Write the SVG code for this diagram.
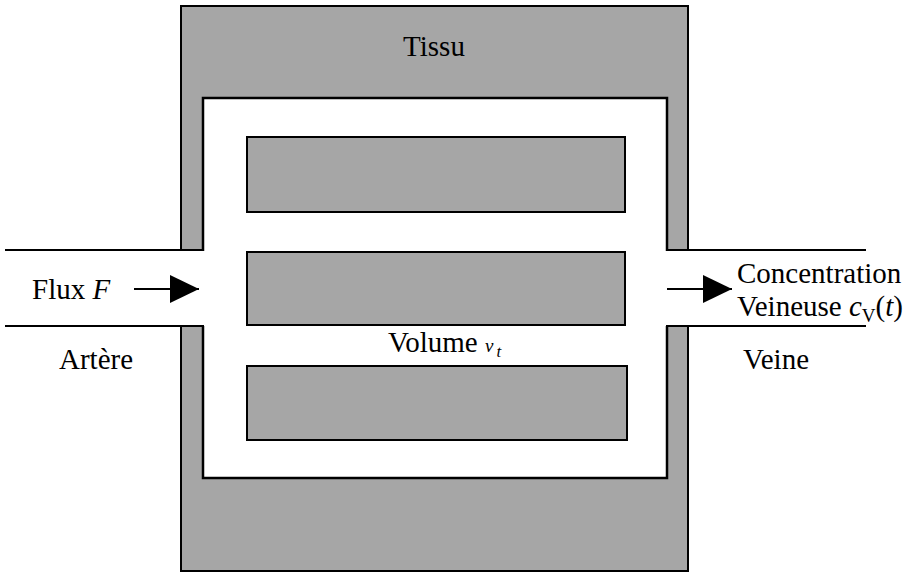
<svg xmlns="http://www.w3.org/2000/svg" width="910" height="576" viewBox="0 0 910 576">
<defs>
<style>
.g{fill:#a6a6a6;stroke:#000;stroke-width:2}
.w{fill:#fff;stroke:#000;stroke-width:2.5}
.l{stroke:#000;stroke-width:2;fill:none}
text{font-family:"Liberation Serif","Times New Roman",serif;font-size:29px;fill:#000}
.i{font-style:italic}
</style>
<marker id="ah" markerWidth="29" markerHeight="28" refX="29" refY="14" orient="auto" markerUnits="userSpaceOnUse">
<path d="M0,0 L29,14 L0,28 Z" fill="#000"/>
</marker>
</defs>
<rect width="910" height="576" fill="#fff"/>
<g id="tissu">
<rect class="g" x="181" y="6" width="507" height="565"/>
<rect class="w" x="203" y="98" width="464" height="380"/>
<rect x="178" y="251" width="27" height="75" fill="#fff"/>
<rect x="665" y="251" width="27" height="75" fill="#fff"/>
<text x="434" y="56" text-anchor="middle">Tissu</text>
</g>
<g id="capillaire1"><rect class="g" x="247" y="137" width="378" height="75"/></g>
<g id="capillaire2"><rect class="g" x="247" y="252" width="378" height="73"/></g>
<g id="capillaire3"><rect class="g" x="247" y="366" width="380" height="74"/></g>
<g id="artere">
<line class="l" x1="5" y1="250" x2="204" y2="250"/>
<line class="l" x1="5" y1="326" x2="204" y2="326"/>
<text x="32" y="299">Flux <tspan class="i">F</tspan></text>
<text x="59" y="369">Artère</text>
</g>
<g id="veine">
<line class="l" x1="666" y1="250" x2="866" y2="250"/>
<line class="l" x1="666" y1="326" x2="866" y2="326"/>
<text x="737" y="283">Concentration</text>
<text x="737" y="316">Veineuse <tspan class="i">c</tspan><tspan font-size="19" dy="6">V</tspan><tspan dy="-6">(</tspan><tspan class="i">t</tspan>)</text>
<text x="743" y="369">Veine</text>
</g>
<g id="volume">
<text x="388" y="352">Volume <tspan class="i" font-size="19">v</tspan><tspan class="i" font-size="17" dx="3" dy="5">t</tspan></text>
</g>
<g id="connectors">
<line class="l" x1="134" y1="289" x2="199" y2="289" marker-end="url(#ah)"/>
<line class="l" x1="667" y1="289" x2="732" y2="289" marker-end="url(#ah)"/>
</g>
</svg>
